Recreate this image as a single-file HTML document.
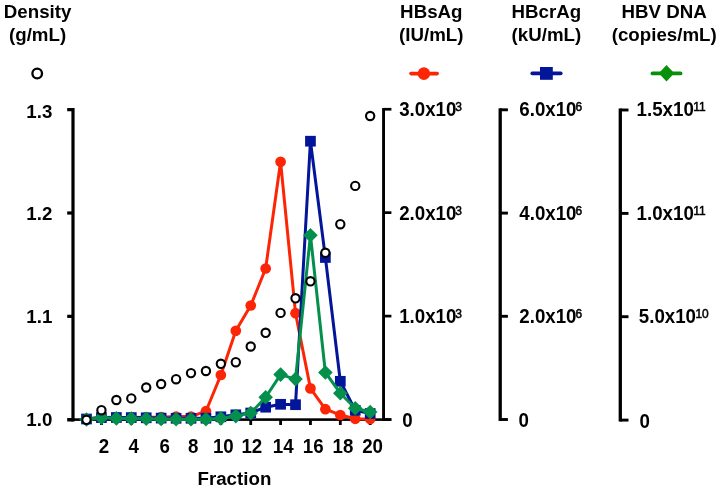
<!DOCTYPE html>
<html><head><meta charset="utf-8"><title>Chart</title>
<style>html,body{margin:0;padding:0;background:#fff}svg{display:block}</style></head>
<body>
<svg width="719" height="489" viewBox="0 0 719 489">
<rect width="719" height="489" fill="#fff"/>
<g fill="#000">
<rect x="71.4" y="108.0" width="3.2" height="313.5"/>
<rect x="67.2" y="108.05000000000001" width="6" height="3.2"/>
<rect x="67.2" y="211.4" width="6" height="3.2"/>
<rect x="67.2" y="314.75" width="6" height="3.2"/>
<rect x="67.2" y="418.0" width="6" height="3.5"/>
<rect x="73" y="418.3" width="318.3" height="2.6"/>
<rect x="100.03" y="419" width="2.8" height="6"/>
<rect x="129.89" y="419" width="2.8" height="6"/>
<rect x="159.75" y="419" width="2.8" height="6"/>
<rect x="189.60999999999999" y="419" width="2.8" height="6"/>
<rect x="219.47" y="419" width="2.8" height="6"/>
<rect x="249.32999999999998" y="419" width="2.8" height="6"/>
<rect x="279.19" y="419" width="2.8" height="6"/>
<rect x="309.05" y="419" width="2.8" height="6"/>
<rect x="338.91" y="419" width="2.8" height="6"/>
<rect x="368.77000000000004" y="419" width="2.8" height="6"/>
<rect x="382.10" y="108.0" width="2.9" height="312.90"/>
<rect x="383.55" y="107.90" width="7.85" height="2.7"/>
<rect x="383.55" y="211.30" width="7.85" height="2.7"/>
<rect x="383.55" y="314.75" width="7.85" height="2.7"/>
<rect x="383.55" y="418.20" width="7.85" height="2.7"/>
<rect x="498.55" y="108.3" width="3.3" height="312.65"/>
<rect x="500.2" y="108.35" width="7.70" height="2.9"/>
<rect x="500.2" y="211.65" width="7.70" height="2.9"/>
<rect x="500.2" y="314.85" width="7.70" height="2.9"/>
<rect x="500.2" y="418.05" width="7.70" height="2.9"/>
<rect x="618.65" y="108.5" width="3.3" height="313.05"/>
<rect x="620.3" y="108.55" width="8.20" height="2.9"/>
<rect x="620.3" y="211.95" width="8.20" height="2.9"/>
<rect x="620.3" y="315.25" width="8.20" height="2.9"/>
<rect x="620.3" y="418.65" width="8.20" height="2.9"/>
</g>
<polyline points="86.5,419.0 101.43,417.2 116.36,417.4 131.29,417.4 146.22,417.3 161.15,417.2 176.08,416.6 191.01,416.6 205.94,411.2 220.87,375 235.8,330.8 250.73,305.5 265.66,268.5 280.59,161.8 295.52,313.2 310.45,388.4 325.38,409.2 340.31,415 355.24,418.8 370.17,419" fill="none" stroke="#FC2606" stroke-width="3" stroke-linejoin="round"/>
<circle cx="86.5" cy="419.0" r="5.35" fill="#FC2606"/>
<circle cx="101.43" cy="417.2" r="5.35" fill="#FC2606"/>
<circle cx="116.36" cy="417.4" r="5.35" fill="#FC2606"/>
<circle cx="131.29" cy="417.4" r="5.35" fill="#FC2606"/>
<circle cx="146.22" cy="417.3" r="5.35" fill="#FC2606"/>
<circle cx="161.15" cy="417.2" r="5.35" fill="#FC2606"/>
<circle cx="176.08" cy="416.6" r="5.35" fill="#FC2606"/>
<circle cx="191.01" cy="416.6" r="5.35" fill="#FC2606"/>
<circle cx="205.94" cy="411.2" r="5.35" fill="#FC2606"/>
<circle cx="220.87" cy="375" r="5.35" fill="#FC2606"/>
<circle cx="235.8" cy="330.8" r="5.35" fill="#FC2606"/>
<circle cx="250.73" cy="305.5" r="5.35" fill="#FC2606"/>
<circle cx="265.66" cy="268.5" r="5.35" fill="#FC2606"/>
<circle cx="280.59" cy="161.8" r="5.35" fill="#FC2606"/>
<circle cx="295.52" cy="313.2" r="5.35" fill="#FC2606"/>
<circle cx="310.45" cy="388.4" r="5.35" fill="#FC2606"/>
<circle cx="325.38" cy="409.2" r="5.35" fill="#FC2606"/>
<circle cx="340.31" cy="415" r="5.35" fill="#FC2606"/>
<circle cx="355.24" cy="418.8" r="5.35" fill="#FC2606"/>
<circle cx="370.17" cy="419" r="5.35" fill="#FC2606"/>
<polyline points="86.5,419.0 101.43,417.6 116.36,417.5 131.29,417.6 146.22,417.8 161.15,418.1 176.08,418.3 191.01,418.3 205.94,418.2 220.87,416.8 235.8,414.8 250.73,413 265.66,407.2 280.59,404.3 295.52,404.7 310.45,141.2 325.38,257.5 340.31,381.3 355.24,410.3 370.17,413.5" fill="none" stroke="#031598" stroke-width="3" stroke-linejoin="round"/>
<rect x="81.15" y="413.65" width="10.7" height="10.7" fill="#031598"/>
<rect x="96.08" y="412.25" width="10.7" height="10.7" fill="#031598"/>
<rect x="111.01" y="412.15" width="10.7" height="10.7" fill="#031598"/>
<rect x="125.94" y="412.25" width="10.7" height="10.7" fill="#031598"/>
<rect x="140.87" y="412.45" width="10.7" height="10.7" fill="#031598"/>
<rect x="155.80" y="412.75" width="10.7" height="10.7" fill="#031598"/>
<rect x="170.73" y="412.95" width="10.7" height="10.7" fill="#031598"/>
<rect x="185.66" y="412.95" width="10.7" height="10.7" fill="#031598"/>
<rect x="200.59" y="412.85" width="10.7" height="10.7" fill="#031598"/>
<rect x="215.52" y="411.45" width="10.7" height="10.7" fill="#031598"/>
<rect x="230.45" y="409.45" width="10.7" height="10.7" fill="#031598"/>
<rect x="245.38" y="407.65" width="10.7" height="10.7" fill="#031598"/>
<rect x="260.31" y="401.85" width="10.7" height="10.7" fill="#031598"/>
<rect x="275.24" y="398.95" width="10.7" height="10.7" fill="#031598"/>
<rect x="290.17" y="399.35" width="10.7" height="10.7" fill="#031598"/>
<rect x="305.10" y="135.85" width="10.7" height="10.7" fill="#031598"/>
<rect x="320.03" y="252.15" width="10.7" height="10.7" fill="#031598"/>
<rect x="334.96" y="375.95" width="10.7" height="10.7" fill="#031598"/>
<rect x="349.89" y="404.95" width="10.7" height="10.7" fill="#031598"/>
<rect x="364.82" y="408.15" width="10.7" height="10.7" fill="#031598"/>
<polyline points="86.5,419.5 101.43,417.7 116.36,418.4 131.29,418.6 146.22,418.7 161.15,419.0 176.08,419.3 191.01,419.3 205.94,419.2 220.87,418.4 235.8,416.1 250.73,413 265.66,397.3 280.59,374.6 295.52,379.1 310.45,235.2 325.38,372.5 340.31,393.2 355.24,408.2 370.17,412" fill="none" stroke="#04904C" stroke-width="3" stroke-linejoin="round"/>
<path d="M86.5 412.2L93.8 419.5L86.5 426.8L79.2 419.5Z" fill="#04904C"/>
<path d="M101.43 410.4L108.73 417.7L101.43 425.0L94.13000000000001 417.7Z" fill="#04904C"/>
<path d="M116.36 411.09999999999997L123.66 418.4L116.36 425.7L109.06 418.4Z" fill="#04904C"/>
<path d="M131.29 411.3L138.59 418.6L131.29 425.90000000000003L123.99 418.6Z" fill="#04904C"/>
<path d="M146.22 411.4L153.52 418.7L146.22 426.0L138.92 418.7Z" fill="#04904C"/>
<path d="M161.15 411.7L168.45000000000002 419.0L161.15 426.3L153.85 419.0Z" fill="#04904C"/>
<path d="M176.08 412.0L183.38000000000002 419.3L176.08 426.6L168.78 419.3Z" fill="#04904C"/>
<path d="M191.01 412.0L198.31 419.3L191.01 426.6L183.70999999999998 419.3Z" fill="#04904C"/>
<path d="M205.94 411.9L213.24 419.2L205.94 426.5L198.64 419.2Z" fill="#04904C"/>
<path d="M220.87 411.09999999999997L228.17000000000002 418.4L220.87 425.7L213.57 418.4Z" fill="#04904C"/>
<path d="M235.8 408.8L243.10000000000002 416.1L235.8 423.40000000000003L228.5 416.1Z" fill="#04904C"/>
<path d="M250.73 405.7L258.03 413L250.73 420.3L243.42999999999998 413Z" fill="#04904C"/>
<path d="M265.66 390.0L272.96000000000004 397.3L265.66 404.6L258.36 397.3Z" fill="#04904C"/>
<path d="M280.59 367.3L287.89 374.6L280.59 381.90000000000003L273.28999999999996 374.6Z" fill="#04904C"/>
<path d="M295.52 371.8L302.82 379.1L295.52 386.40000000000003L288.21999999999997 379.1Z" fill="#04904C"/>
<path d="M310.45 227.89999999999998L317.75 235.2L310.45 242.5L303.15 235.2Z" fill="#04904C"/>
<path d="M325.38 365.2L332.68 372.5L325.38 379.8L318.08 372.5Z" fill="#04904C"/>
<path d="M340.31 385.9L347.61 393.2L340.31 400.5L333.01 393.2Z" fill="#04904C"/>
<path d="M355.24 400.9L362.54 408.2L355.24 415.5L347.94 408.2Z" fill="#04904C"/>
<path d="M370.17 404.7L377.47 412L370.17 419.3L362.87 412Z" fill="#04904C"/>
<circle cx="86.5" cy="419.8" r="4.15" fill="#fff" stroke="#000" stroke-width="2.1"/>
<circle cx="101.43" cy="410.2" r="4.15" fill="#fff" stroke="#000" stroke-width="2.1"/>
<circle cx="116.36" cy="400" r="4.15" fill="#fff" stroke="#000" stroke-width="2.1"/>
<circle cx="131.29" cy="398.4" r="4.15" fill="#fff" stroke="#000" stroke-width="2.1"/>
<circle cx="146.22" cy="387.5" r="4.15" fill="#fff" stroke="#000" stroke-width="2.1"/>
<circle cx="161.15" cy="384" r="4.15" fill="#fff" stroke="#000" stroke-width="2.1"/>
<circle cx="176.08" cy="379.2" r="4.15" fill="#fff" stroke="#000" stroke-width="2.1"/>
<circle cx="191.01" cy="373.1" r="4.15" fill="#fff" stroke="#000" stroke-width="2.1"/>
<circle cx="205.94" cy="371" r="4.15" fill="#fff" stroke="#000" stroke-width="2.1"/>
<circle cx="220.87" cy="363.8" r="4.15" fill="#fff" stroke="#000" stroke-width="2.1"/>
<circle cx="235.8" cy="362.2" r="4.15" fill="#fff" stroke="#000" stroke-width="2.1"/>
<circle cx="250.73" cy="346.5" r="4.15" fill="#fff" stroke="#000" stroke-width="2.1"/>
<circle cx="265.66" cy="332.8" r="4.15" fill="#fff" stroke="#000" stroke-width="2.1"/>
<circle cx="280.59" cy="312.9" r="4.15" fill="#fff" stroke="#000" stroke-width="2.1"/>
<circle cx="295.52" cy="298.3" r="4.15" fill="#fff" stroke="#000" stroke-width="2.1"/>
<circle cx="310.45" cy="281.3" r="4.15" fill="#fff" stroke="#000" stroke-width="2.1"/>
<circle cx="325.38" cy="252.8" r="4.15" fill="#fff" stroke="#000" stroke-width="2.1"/>
<circle cx="340.31" cy="224.2" r="4.15" fill="#fff" stroke="#000" stroke-width="2.1"/>
<circle cx="355.24" cy="185.9" r="4.15" fill="#fff" stroke="#000" stroke-width="2.1"/>
<circle cx="370.17" cy="116" r="4.15" fill="#fff" stroke="#000" stroke-width="2.1"/>
<circle cx="37.2" cy="73.5" r="4.8" fill="#fff" stroke="#000" stroke-width="2.3"/>
<line x1="411" y1="73.6" x2="437.2" y2="73.6" stroke="#FC2606" stroke-width="3.6" stroke-linecap="round"/><circle cx="423.9" cy="73.6" r="6.3" fill="#FC2606"/>
<line x1="532.2" y1="73.4" x2="560.8" y2="73.4" stroke="#031598" stroke-width="3.6" stroke-linecap="round"/><rect x="540" y="67" width="12.8" height="12.8" fill="#031598"/>
<line x1="652.5" y1="73.4" x2="680.5" y2="73.4" stroke="#07910A" stroke-width="3.8" stroke-linecap="round"/><path d="M666.5 65L674.2 73.3L666.5 81.6L658.8 73.3Z" fill="#07910A"/>
<g font-family="'Liberation Sans', sans-serif" font-weight="700" font-size="18" fill="#000" opacity="0.999">
<text transform="translate(37.6,18.2) scale(1.04,0.97)" text-anchor="middle">Density</text>
<text transform="translate(37.6,41.3) scale(1.04,0.97)" text-anchor="middle">(g/mL)</text>
<text transform="translate(431.3,18.2) scale(1.04,0.97)" text-anchor="middle">HBsAg</text>
<text transform="translate(431.3,41.3) scale(1.04,0.97)" text-anchor="middle">(IU/mL)</text>
<text transform="translate(546.4,18.2) scale(1.04,0.97)" text-anchor="middle">HBcrAg</text>
<text transform="translate(546.4,41.3) scale(1.04,0.97)" text-anchor="middle">(kU/mL)</text>
<text transform="translate(664.2,18.2) scale(1.04,0.97)" text-anchor="middle">HBV DNA</text>
<text transform="translate(664.2,41.3) scale(1.04,0.97)" text-anchor="middle">(copies/mL)</text>
<text transform="translate(52.3,117.5) scale(1.04,1.03)" text-anchor="end">1.3</text>
<text transform="translate(52.3,219.9) scale(1.04,1.03)" text-anchor="end">1.2</text>
<text transform="translate(52.3,323.4) scale(1.04,1.03)" text-anchor="end">1.1</text>
<text transform="translate(52.3,426.2) scale(1.04,1.03)" text-anchor="end">1.0</text>
<text transform="translate(399.2,115.8) scale(1.04,1.09)" text-anchor="start">3.0x10<tspan font-size="11.5" font-weight="400" dy="-4.4" dx="-1.0" stroke="#000" stroke-width="0.5">3</tspan></text>
<text transform="translate(399.2,219.5) scale(1.04,1.09)" text-anchor="start">2.0x10<tspan font-size="11.5" font-weight="400" dy="-4.4" dx="-1.0" stroke="#000" stroke-width="0.5">3</tspan></text>
<text transform="translate(399.2,322.7) scale(1.04,1.09)" text-anchor="start">1.0x10<tspan font-size="11.5" font-weight="400" dy="-4.4" dx="-1.0" stroke="#000" stroke-width="0.5">3</tspan></text>
<text transform="translate(402.2,426.9) scale(1.04,1.09)" text-anchor="start">0</text>
<text transform="translate(519.3,115.8) scale(1.04,1.09)" text-anchor="start">6.0x10<tspan font-size="11.5" font-weight="400" dy="-4.4" dx="-1.0" stroke="#000" stroke-width="0.5">6</tspan></text>
<text transform="translate(519.3,219.5) scale(1.04,1.09)" text-anchor="start">4.0x10<tspan font-size="11.5" font-weight="400" dy="-4.4" dx="-1.0" stroke="#000" stroke-width="0.5">6</tspan></text>
<text transform="translate(519.3,322.7) scale(1.04,1.09)" text-anchor="start">2.0x10<tspan font-size="11.5" font-weight="400" dy="-4.4" dx="-1.0" stroke="#000" stroke-width="0.5">6</tspan></text>
<text transform="translate(518.4,426.8) scale(1.04,1.09)" text-anchor="start">0</text>
<text transform="translate(636.6,115.8) scale(1.04,1.09)" text-anchor="start">1.5x10<tspan font-size="11.5" font-weight="400" dy="-4.4" dx="-0.5" stroke="#000" stroke-width="0.5">11</tspan></text>
<text transform="translate(636.6,219.5) scale(1.04,1.09)" text-anchor="start">1.0x10<tspan font-size="11.5" font-weight="400" dy="-4.4" dx="-0.5" stroke="#000" stroke-width="0.5">11</tspan></text>
<text transform="translate(638.8,322.7) scale(1.04,1.09)" text-anchor="start">5.0x10<tspan font-size="11.5" font-weight="400" dy="-4.4" dx="-0.5" stroke="#000" stroke-width="0.5">10</tspan></text>
<text transform="translate(639.4,428.0) scale(1.04,1.09)" text-anchor="start">0</text>
<text transform="translate(103.9,453.0) scale(1.04,1.08)" text-anchor="middle">2</text>
<text transform="translate(133.7,453.0) scale(1.04,1.08)" text-anchor="middle">4</text>
<text transform="translate(164.6,453.0) scale(1.04,1.08)" text-anchor="middle">6</text>
<text transform="translate(193.3,453.0) scale(1.04,1.08)" text-anchor="middle">8</text>
<text transform="translate(223.3,453.0) scale(1.04,1.08)" text-anchor="middle">10</text>
<text transform="translate(251.8,453.0) scale(1.04,1.08)" text-anchor="middle">12</text>
<text transform="translate(283.2,453.0) scale(1.04,1.08)" text-anchor="middle">14</text>
<text transform="translate(313.2,453.0) scale(1.04,1.08)" text-anchor="middle">16</text>
<text transform="translate(343,453.0) scale(1.04,1.08)" text-anchor="middle">18</text>
<text transform="translate(372.6,453.0) scale(1.04,1.08)" text-anchor="middle">20</text>
<text transform="translate(234.4,484.7) scale(1.04,1.02)" text-anchor="middle">Fraction</text>
</g>
</svg>
</body></html>
